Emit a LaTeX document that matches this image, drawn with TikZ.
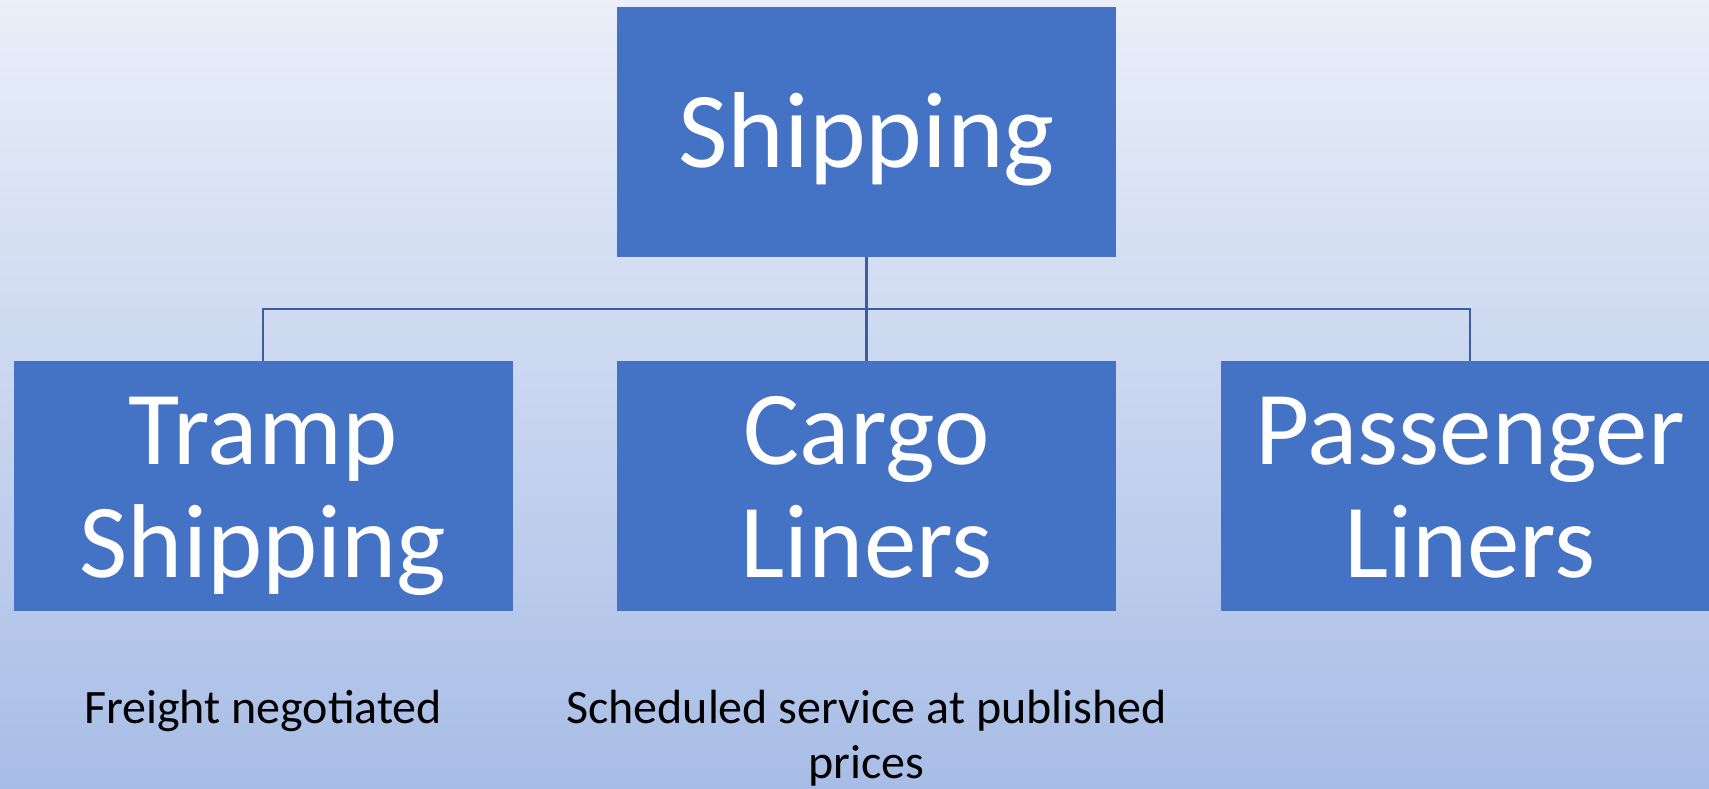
\documentclass[tikz,border=0pt]{standalone}
\usepackage{fontspec}
\setmainfont{Carlito}
\definecolor{boxblue}{HTML}{4472C4}
\definecolor{linkblue}{HTML}{3A5E9F}
\definecolor{bgtop}{HTML}{EAEFF9}
\definecolor{bgbot}{HTML}{A8BDE6}
\tikzset{
  catbox/.style={fill=boxblue, minimum width=499pt, minimum height=250pt, inner sep=0pt},
  cattext/.style={text=white, inner sep=0pt, align=center, anchor=base,
    font=\fontsize{105}{113}\selectfont},
  toptext/.style={text=white, inner sep=0pt, anchor=base, font=\fontsize{108}{120}\selectfont},
  note/.style={text=black, align=center, inner sep=0pt, anchor=base,
    font=\fontsize{48}{55}\selectfont},
  link/.style={draw=linkblue, line width=2.5pt}
}
\begin{document}
\begin{tikzpicture}[x=1pt,y=-1pt]
\useasboundingbox (0,0) rectangle (1709,788);
\shade[top color=bgtop, bottom color=bgbot] (0,0) rectangle (1709,788);
\node[catbox] (ship) at (866.5,132) {};
\node[catbox] (tramp) at (263,486) {};
\node[catbox] (cargo) at (866.5,486) {};
\node[catbox] (pass) at (1470,486) {};
\node[toptext] (shipt) at (866.5,167) {Shipping};
\node[cattext] (trampt) at (263,577) {Tramp\\Shipping};
\node[cattext] (cargot) at (866.5,577) {Cargo\\Liners};
\node[cattext] (passt) at (1470,577) {Passenger\\Liners};
\coordinate (bus) at (0,309);
\draw[link] (tramp.north) -- (tramp.north |- bus) -- (pass.north |- bus) -- (pass.north);
\draw[link] (ship.south) -- (cargo.north);
\node[note] (n1) at (263,723) {Freight negotiated};
\node[note] (n2) at (866.5,778) {Scheduled service at published\\prices};
\end{tikzpicture}
\end{document}
